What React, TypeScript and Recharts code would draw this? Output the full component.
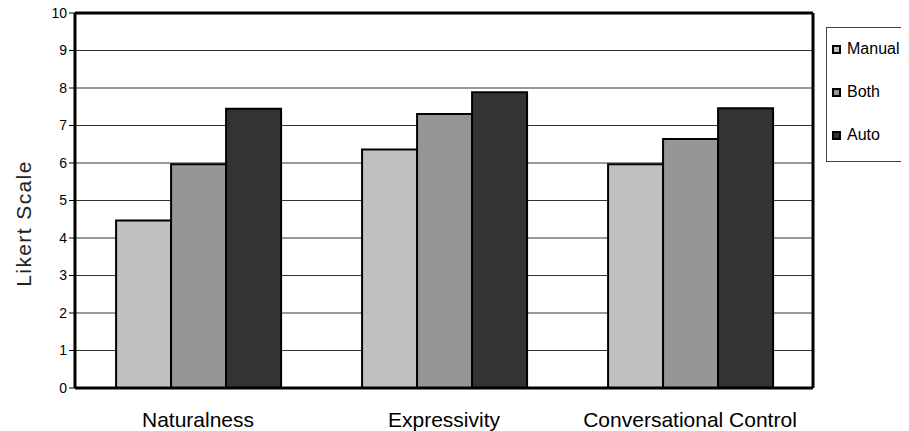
import React from "react";
import { Bar, BarChart, CartesianGrid, XAxis, YAxis } from "recharts";

// Survey results
const categories = ["Naturalness", "Expressivity", "Conversational Control"];
const manualValues = [4.47, 6.36, 5.97];
const bothValues = [5.97, 7.31, 6.64];
const autoValues = [7.45, 7.89, 7.46];
const yTicks = [0, 1, 2, 3, 4, 5, 6, 7, 8, 9, 10];

const SERIES = [
  { key: "Manual", color: "#c0c0c0" },
  { key: "Both", color: "#969696" },
  { key: "Auto", color: "#333333" },
];

const FONT = "'Liberation Sans', Arial, sans-serif";

const data = categories.map((name, i) => ({
  name,
  Manual: manualValues[i],
  Both: bothValues[i],
  Auto: autoValues[i],
}));

const LegendBox: React.FC = () => (
  <div
    style={{
      position: "absolute",
      left: 826,
      top: 27,
      width: 100,
      height: 135,
      border: "1px solid #444",
      background: "#fff",
      boxSizing: "border-box",
      fontFamily: FONT,
      fontSize: 16,
      color: "#000",
    }}
  >
    {SERIES.map((s, i) => (
      <div
        key={s.key}
        style={{ position: "absolute", left: 5, top: 11 + i * 43, display: "flex", alignItems: "center", height: 20 }}
      >
        <div style={{ width: 5, height: 5, border: "2px solid #000", background: s.color, marginRight: 6 }} />
        <span>{s.key}</span>
      </div>
    ))}
  </div>
);

// rotated axis title, sits a little below the plot's middle as in the original
const AxisTitle = (props: any) => {
  const vb = props.viewBox ?? { x: 0, y: 0, width: 0, height: 0 };
  const x = vb.x + 31;
  const y = vb.y + vb.height / 2 + 23;
  return (
    <text
      x={x}
      y={y}
      transform={`rotate(-90 ${x} ${y})`}
      textAnchor="middle"
      fill="#222"
      fontSize={21}
      letterSpacing={1.4}
      fontFamily={FONT}
    >
      Likert Scale
    </text>
  );
};

export default function App() {
  return (
    <div style={{ position: "relative", width: 909, height: 431, margin: "-8px 0 0 -8px", fontFamily: FONT }}>
      <BarChart
        width={909}
        height={431}
        data={data}
        margin={{ top: 12, right: 95, bottom: 0, left: 0 }}
        barCategoryGap="16.7%"
        barGap={0}
      >
        <CartesianGrid vertical={false} stroke="#333" strokeWidth={1} yAxisId="left" />
        <XAxis
          dataKey="name"
          height={43}
          axisLine={{ stroke: "#000", strokeWidth: 3 }}
          tickLine={false}
          tickMargin={18}
          tick={{ fill: "#000", fontSize: 21, fontFamily: FONT }}
          interval={0}
        />
        <XAxis
          xAxisId="top"
          orientation="top"
          dataKey="name"
          height={1}
          tick={false}
          tickLine={false}
          axisLine={{ stroke: "#000", strokeWidth: 3 }}
        />
        <YAxis
          yAxisId="left"
          width={75}
          domain={[0, 10]}
          ticks={yTicks}
          interval={0}
          axisLine={{ stroke: "#000", strokeWidth: 3 }}
          tickLine={{ stroke: "#000" }}
          tickSize={6}
          tickMargin={2}
          tick={{ fill: "#000", fontSize: 14, fontFamily: FONT }}
          label={<AxisTitle />}
        />
        <YAxis
          yAxisId="right"
          orientation="right"
          width={1}
          domain={[0, 10]}
          tick={false}
          tickLine={false}
          axisLine={{ stroke: "#000", strokeWidth: 3 }}
        />
        {SERIES.map((s) => (
          <Bar
            key={s.key}
            yAxisId="left"
            dataKey={s.key}
            fill={s.color}
            stroke="#000"
            strokeWidth={2}
            isAnimationActive={false}
          />
        ))}
      </BarChart>
      <LegendBox />
    </div>
  );
}
